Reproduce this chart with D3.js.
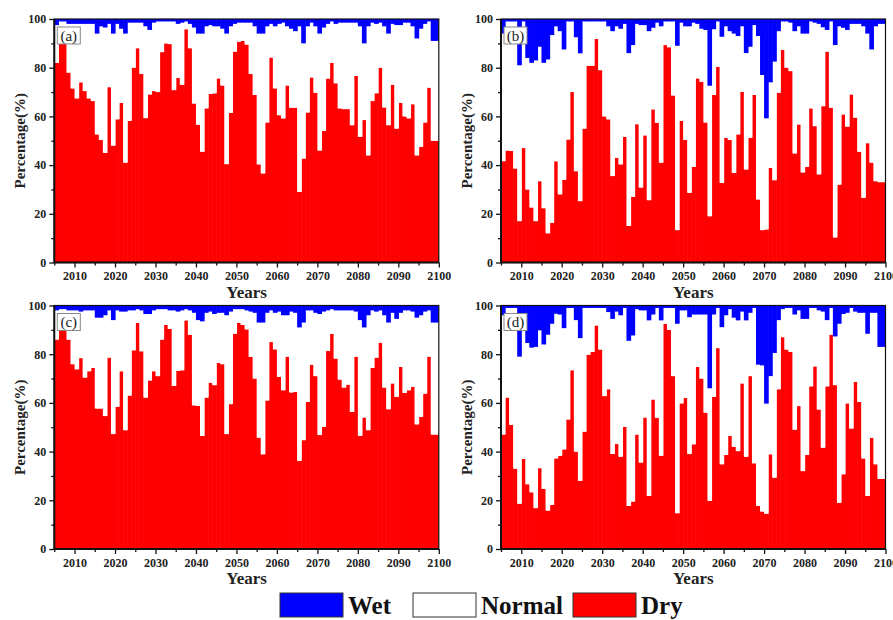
<!DOCTYPE html>
<html>
<head>
<meta charset="utf-8">
<script src="https://cdn.jsdelivr.net/npm/d3@7"></script>
<style>
  body { margin: 0; background: #fff; }
  svg { display: block; font-family: "Liberation Serif", "Times New Roman", serif; }
</style>
</head>
<body>
<svg id="chart" width="893" height="620"></svg>
<script>
// years 2006..2100, one bar each
const years = d3.range(2006, 2101);

// (a) percentages, rows: 2006-2010, then one decade per row
const dryA = [82, 90, 90, 78, 71.5,
  67.4, 74, 70.4, 67.4, 66.3, 52.6, 50.3, 45, 72, 48,
  58.8, 65.6, 41, 58.2, 80, 88, 77.4, 59.3, 69, 70.4,
  70, 86.4, 90, 89.7, 70.8, 75.8, 73, 95.8, 88, 65.3,
  56.6, 45.5, 63.3, 69.2, 69.5, 75.6, 72.7, 40.4, 61.4, 86.6,
  90.7, 91, 89.5, 77.4, 68.8, 40.3, 36.6, 57.5, 84.2, 71.5,
  60.5, 59.2, 72.7, 63.6, 63.6, 29, 42.7, 61.6, 76, 69.7,
  46, 54, 75.5, 82, 73.6, 63.3, 63, 63, 56.4, 76.6,
  51.6, 58.5, 44, 66.3, 69.5, 80, 63.7, 56.4, 73, 55,
  65.6, 60, 59.2, 65, 44, 47.5, 57.5, 71.8, 50, 50];
const wetA = [2.5, 1, 1, 2, 2,
  2, 2, 2, 2, 2, 6, 3, 3.5, 2, 6,
  2, 4, 6, 1.5, 1.5, 1.5, 1.5, 3, 4.5, 1.5,
  1, 1, 1, 1, 1, 2, 1.5, 1, 2, 3.5,
  6, 6, 3, 2.5, 3, 3, 4, 6, 3, 2,
  1.5, 1.5, 1.5, 1.5, 3, 6, 6, 3, 2, 3,
  2, 1.5, 3, 4, 5, 3, 10, 3, 1.5, 3,
  6, 3.5, 2, 1, 2, 1.5, 1.5, 1.5, 1.5, 1.5,
  3, 10, 3, 1.5, 2, 1.5, 3, 6, 2, 2.5,
  2.5, 1.5, 1.5, 3, 8, 4, 2, 1, 9, 9];

// (b)
const dryB = [41.6, 46, 45.8, 38.6, 17,
  47, 30, 22.6, 17, 33.4, 22.3, 12, 16.3, 41.6, 28,
  34, 50.5, 70, 37.5, 25.2, 55, 80.8, 80.8, 91.8, 79,
  60, 58.8, 35.5, 43, 40.3, 51.6, 15, 27, 56.8, 30.8,
  52.2, 25.6, 62.9, 57.4, 41, 89.3, 88.4, 68.6, 13.3, 58.2,
  50.3, 28.6, 39.3, 75.6, 74.2, 57.5, 19, 68.8, 80.4, 32.7,
  51.2, 50.3, 36.8, 52.6, 70.1, 38.2, 51.2, 68.8, 25.9, 13.3,
  13.6, 38.9, 33.8, 69.7, 87.3, 80, 78.6, 44.8, 56.7, 37,
  39.3, 63.3, 56, 36.2, 64.2, 86.6, 63.6, 10.3, 32, 60.8,
  55.8, 69, 59.5, 45.5, 26.6, 49, 41, 33.4, 33, 33];
const wetB = [6, 1, 1, 1, 19,
  1, 16, 18, 17, 11.4, 18, 16.6, 6.6, 3, 5,
  12.5, 1, 1, 7.5, 14.1, 1, 1, 1, 1, 1,
  1, 3, 5, 3, 4, 2, 14, 10.7, 2, 2.5,
  2.5, 5, 3.6, 1.5, 3, 1, 1, 1, 11, 1.5,
  3, 3, 1.5, 2, 4, 4.5, 27.4, 4.2, 1, 7.3,
  3, 5, 6, 7, 3, 14, 11.4, 2.5, 7, 23,
  40.8, 26, 17.5, 5, 1, 1, 1.5, 5, 3, 6,
  6, 1, 1.5, 2, 3.4, 4.5, 1, 10.7, 3, 3.6,
  4.5, 2, 2, 2, 3, 6, 12.5, 3, 2, 2];

// (c)
const dryC = [86, 90, 90, 86, 75.9,
  73.8, 78.4, 70.4, 73, 74.4, 57.7, 57.7, 54.6, 78.6, 47.2,
  58.4, 73, 48.8, 63, 81.6, 92.8, 81.2, 62.2, 69.2, 73,
  71, 86, 92, 90.4, 67, 73.1, 73.4, 93.9, 88, 59,
  58.8, 46.4, 62.2, 68.3, 67.3, 76.4, 75.9, 47.2, 59.5, 88.4,
  92.9, 92, 90.2, 78.9, 70, 45.7, 38.9, 61, 85, 82,
  70.7, 65.2, 79, 64.3, 64.5, 36.2, 44.7, 60.4, 75.7, 71,
  46.8, 50.2, 81.3, 88.4, 78.2, 69.6, 66.3, 67.5, 56.3, 79,
  46.5, 54, 48.8, 74.4, 78.6, 84.7, 66.3, 57.4, 68, 62.5,
  74.8, 64.1, 65.2, 66.6, 51.2, 54.3, 63.8, 79, 47, 47];
const wetC = [2, 1.5, 1.5, 2, 2,
  2, 2.5, 2, 2, 2, 5, 5, 4, 2, 6,
  2, 2.5, 2.5, 2, 2, 1.5, 2, 3.5, 3.5, 2,
  1.5, 1.5, 1.5, 2, 2, 2.5, 2, 1.5, 2, 3,
  6, 6.5, 3, 2.5, 3.5, 3, 3, 4, 2.5, 1.5,
  1.5, 1.5, 2, 2.5, 3, 7, 7, 3, 2, 3,
  2.5, 4, 4, 2.5, 3, 9, 7, 2, 2, 3,
  3.5, 2.5, 2, 1.5, 2, 2, 2, 2, 2, 2.5,
  6, 9, 4, 2, 2.5, 2, 4, 7, 3, 5.5,
  3, 2, 2, 2.5, 5, 4, 2.5, 2, 7, 7];

// (d)
const dryD = [47, 62.2, 51, 33, 18.6,
  37, 26.6, 23.3, 16.8, 33.2, 24.7, 15.8, 18.1, 37.2, 38.3,
  40.9, 53.2, 73.4, 40, 28, 48.2, 79.8, 80.9, 91.8, 81.9,
  62.8, 65.6, 39, 43.1, 37.9, 50.2, 17.7, 19.5, 47, 35.5,
  54, 21.8, 61.4, 53.9, 38.3, 92.5, 90, 71, 14.7, 59.8,
  62, 39, 43, 74.8, 70, 56, 19.8, 62.5, 82.5, 34.8,
  38.6, 46.5, 42, 40.2, 68, 37.9, 71, 35.2, 17.7, 15.4,
  14.5, 38.9, 29.3, 65.6, 87, 81.9, 80.9, 49, 58.7, 32,
  38.6, 66.8, 75, 57.3, 41.6, 66.8, 88, 67.3, 19, 30.7,
  59.8, 49.5, 68.6, 60.4, 37.2, 21.8, 45.7, 34.8, 28.8, 28.8];
const wetD = [4, 1, 1, 1, 21,
  9.5, 15.4, 17.3, 17, 10.2, 16, 12, 7.5, 3.4, 3.7,
  9.3, 1, 1, 6, 13.4, 1, 1, 1, 1, 1,
  1, 2.7, 5.5, 2.5, 4, 1, 14.5, 12.3, 1.5, 2,
  2, 6.1, 3.7, 1, 6.1, 1, 1, 1, 7.5, 2,
  2, 4.8, 3.7, 3.7, 3.7, 3.7, 34, 3.7, 1, 8.9,
  4, 1.5, 5, 6.1, 2.5, 6.1, 3, 1, 24.3, 24.6,
  40.3, 29, 19.5, 6, 1.5, 1, 1, 3.7, 2, 5.5,
  5.5, 1, 1, 2, 2.5, 6, 1, 12.7, 7.5, 3.5,
  3, 1, 2.5, 3, 3, 11.6, 3, 3, 17, 17];

const xTicks = d3.range(2010, 2101, 10);
const xMinor = d3.range(2005, 2100, 10);
const yTicks = [0, 20, 40, 60, 80, 100];
const yMinor = [10, 30, 50, 70, 90];
const panelTags = ["(a)", "(b)", "(c)", "(d)"];
const legendKeys = ["wet", "normal", "dry"];
const legendLabels = ["Wet", "Normal", "Dry"];

const colors = { wet: "#0000ff", normal: "#ffffff", dry: "#ff0000" };

const svg = d3.select("#chart");
const w = 384.5, h = 243.5;

const panels = [
  { tag: panelTags[0], dry: dryA, wet: wetA, left: 54.3, top: 19 },
  { tag: panelTags[1], dry: dryB, wet: wetB, left: 501, top: 19 },
  { tag: panelTags[2], dry: dryC, wet: wetC, left: 54.3, top: 305.5 },
  { tag: panelTags[3], dry: dryD, wet: wetD, left: 501, top: 305.5 }
];

const x = d3.scaleLinear().domain([2005, 2100]).range([0, w]);
const y = d3.scaleLinear().domain([0, 100]).range([h, 0]);

panels.forEach((p, pi) => {
  const rows = years.map((yr, i) => ({
    year: yr, dry: p.dry[i], wet: p.wet[i], normal: 100 - p.dry[i] - p.wet[i]
  }));
  const series = d3.stack().keys(["dry", "normal", "wet"])(rows);

  const g = svg.append("g").attr("transform", `translate(${p.left},${p.top})`);

  svg.append("defs").append("clipPath").attr("id", "clip" + pi)
    .append("rect").attr("width", w).attr("height", h);

  g.append("g").attr("clip-path", `url(#clip${pi})`)
    .selectAll("g").data(series).join("g")
    .attr("fill", d => colors[d.key])
    .selectAll("rect").data(d => d).join("rect")
    .attr("x", d => x(d.data.year - 1))
    .attr("width", x(2006) - x(2005) + 0.6)
    .attr("y", d => y(d[1]))
    .attr("height", d => y(d[0]) - y(d[1]));

  // axes
  const styleAxis = sel => {
    sel.select(".domain").remove();
    sel.selectAll(".tick line").attr("stroke", "#111").attr("stroke-width", 1.3);
    sel.selectAll(".tick text").attr("fill", "#222")
      .attr("font-size", 12).attr("font-weight", "bold")
      .attr("font-family", "Liberation Serif, serif");
  };

  g.append("g")
    .call(d3.axisLeft(y).tickValues(yTicks).tickSize(5).tickPadding(3))
    .call(styleAxis);
  g.append("g")
    .call(d3.axisLeft(y).tickValues(yMinor).tickSize(3).tickFormat(""))
    .call(styleAxis);

  g.append("g").attr("transform", `translate(0,${h})`)
    .call(d3.axisBottom(x).tickValues(xTicks).tickFormat(d3.format("d")).tickSize(5).tickPadding(4))
    .call(styleAxis);
  g.append("g").attr("transform", `translate(0,${h})`)
    .call(d3.axisBottom(x).tickValues(xMinor).tickSize(3).tickFormat(""))
    .call(styleAxis);

  // frame
  g.append("rect").attr("width", w).attr("height", h)
    .attr("fill", "none").attr("stroke", "#111").attr("stroke-width", 1.2);
  g.append("line").attr("x1", 0).attr("x2", w).attr("y1", h).attr("y2", h)
    .attr("stroke", "#111").attr("stroke-width", 2);
  g.append("line").attr("x1", 0).attr("x2", 0).attr("y1", 0).attr("y2", h)
    .attr("stroke", "#111").attr("stroke-width", 2);

  // panel tag
  g.append("rect").attr("x", 3).attr("y", 8).attr("width", 23).attr("height", 17)
    .attr("fill", "#fff").attr("stroke", "#888").attr("stroke-width", 1);
  g.append("text").attr("x", 14.5).attr("y", 21.5).attr("text-anchor", "middle")
    .attr("font-size", 15).attr("fill", "#222").text(p.tag);

  // axis titles
  g.append("text")
    .attr("transform", `translate(-29,${h / 2}) rotate(-90)`)
    .attr("text-anchor", "middle").attr("font-size", 15).attr("font-weight", "bold")
    .attr("fill", "#222").text("Percentage(%)");
  g.append("text").attr("x", w / 2).attr("y", h + 35)
    .attr("text-anchor", "middle").attr("font-size", 17).attr("font-weight", "bold")
    .attr("fill", "#222").text("Years");
});

// legend
const legendX = [280, 413, 573];
const legend = svg.append("g").selectAll("g").data(legendKeys).join("g")
  .attr("transform", (d, i) => `translate(${legendX[i]},593)`);
legend.append("rect").attr("width", 63).attr("height", 24)
  .attr("fill", d => colors[d]).attr("stroke", "#333").attr("stroke-width", 1);
legend.append("text").attr("x", 68).attr("y", 21)
  .attr("font-size", 25).attr("font-weight", "bold").attr("fill", "#111")
  .text((d, i) => legendLabels[i]);
</script>
</body>
</html>
